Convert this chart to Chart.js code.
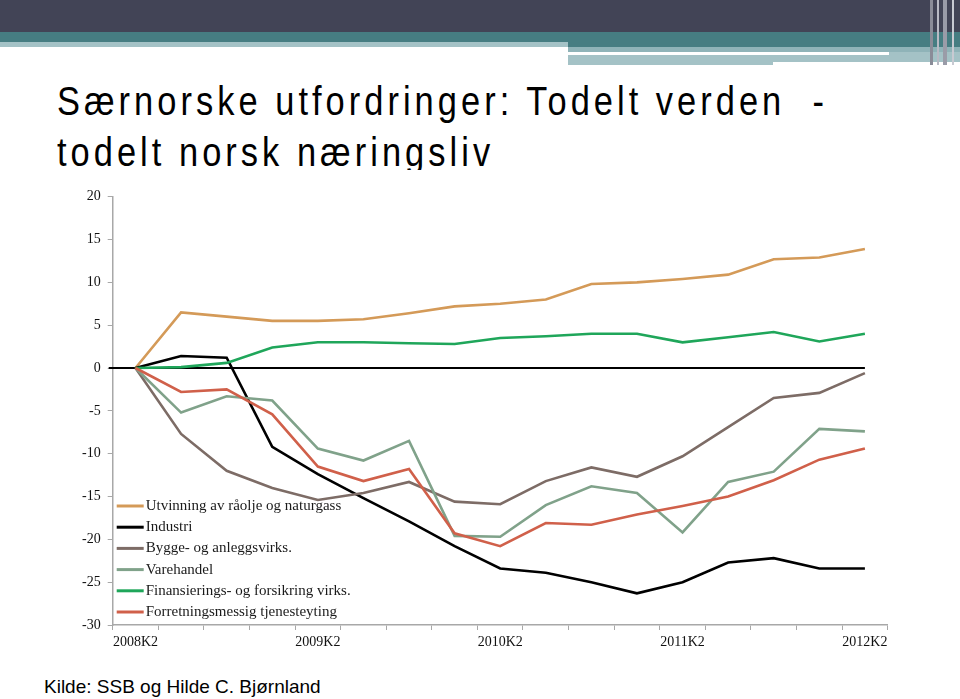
<!DOCTYPE html>
<html>
<head>
<meta charset="utf-8">
<script src="https://cdn.jsdelivr.net/npm/chart.js@4/dist/chart.umd.min.js"></script>
<style>
  body { margin: 0; width: 960px; height: 699px; overflow: hidden; background: #fff; position: relative; font-family: "Liberation Sans", Arial, sans-serif; }
  .blk { position: absolute; }
  #tittel { position: absolute; left: 57px; top: 76px; width: 880px; height: 94px; overflow: hidden; }
  #tittel div { font-size: 40px; line-height: 51px; color: #000; letter-spacing: 4.7px; transform: scaleX(0.86); transform-origin: left top; white-space: nowrap; }
  #kilde { position: absolute; left: 44px; top: 676px; font-size: 19px; color: #000; white-space: nowrap; }
  #boks { position: absolute; left: 0; top: 180px; width: 960px; height: 480px; }
</style>
</head>
<body>
<!-- topplinje -->
<div class="blk" style="left:0;top:0;width:960px;height:32px;background:#424456"></div>
<div class="blk" style="left:0;top:32px;width:960px;height:10px;background:#467D82"></div>
<div class="blk" style="left:0;top:42px;width:568px;height:5px;background:#A4C2C6"></div>
<div class="blk" style="left:568px;top:42px;width:392px;height:5px;background:#467D82"></div>
<div class="blk" style="left:568px;top:47px;width:392px;height:5px;background:#8FB3B8"></div>
<div class="blk" style="left:568px;top:52px;width:321px;height:3px;background:#fff"></div>
<div class="blk" style="left:889px;top:52px;width:71px;height:3px;background:#A4C2C6"></div>
<div class="blk" style="left:568px;top:55px;width:205px;height:10px;background:#A4C2C6"></div>
<div class="blk" style="left:773px;top:55px;width:187px;height:7px;background:#A4C2C6"></div>
<div class="blk" style="left:930px;top:0;width:3px;height:65px;background:#8A8C98"></div>
<div class="blk" style="left:937px;top:0;width:2px;height:65px;background:#B8BAC4"></div>
<div class="blk" style="left:943px;top:0;width:4px;height:65px;background:#9A9CA8"></div>
<div class="blk" style="left:952px;top:0;width:2px;height:65px;background:#C8CAD2"></div>

<div id="tittel">
  <div>Særnorske utfordringer: Todelt verden &nbsp;-</div>
  <div>todelt norsk næringsliv</div>
</div>

<div id="boks"><canvas id="graf" width="960" height="480"></canvas></div>
<div id="kilde">Kilde: SSB og Hilde C. Bjørnland</div>

<script>
// kvartaler 2008K2 - 2012K2
var kvartaler = ["2008K2","2008K3","2008K4","2009K1","2009K2","2009K3","2009K4","2010K1","2010K2",
                 "2010K3","2010K4","2011K1","2011K2","2011K3","2011K4","2012K1","2012K2"];

var utvinning   = [0, 6.5, 6.0, 5.5, 5.5, 5.7, 6.4, 7.2, 7.5, 8.0, 9.8, 10.0, 10.4, 10.9, 12.7, 12.9, 13.9];
var industri    = [0, 1.4, 1.2, -9.2, -12.4, -15.2, -17.9, -20.8, -23.4, -23.9, -25.0, -26.3, -25.0, -22.7, -22.2, -23.4, -23.4];
var bygge       = [0, -7.7, -12.0, -14.0, -15.4, -14.6, -13.3, -15.6, -15.9, -13.2, -11.6, -12.7, -10.3, -6.9, -3.5, -2.9, -0.6];
var varehandel  = [0, -5.2, -3.3, -3.8, -9.4, -10.8, -8.5, -19.6, -19.7, -16.0, -13.8, -14.6, -19.2, -13.3, -12.1, -7.1, -7.4];
var finans      = [0, 0.1, 0.6, 2.4, 3.0, 3.0, 2.9, 2.8, 3.5, 3.7, 4.0, 4.0, 3.0, 3.6, 4.2, 3.1, 4.0];
var forretning  = [0, -2.8, -2.5, -5.4, -11.5, -13.2, -11.8, -19.3, -20.8, -18.1, -18.3, -17.1, -16.1, -15.0, -13.1, -10.7, -9.4];

var navn = ["Utvinning av råolje og naturgass", "Industri", "Bygge- og anleggsvirks.", "Varehandel",
            "Finansierings- og forsikring virks.", "Forretningsmessig tjenesteyting"];
var farger = ["#D49A58", "#000000", "#7D6C66", "#80A28A", "#1FA65A", "#D0604A"];
var serier = [utvinning, industri, bygge, varehandel, finans, forretning];

var datasett = [];
for (var i = 0; i < serier.length; i++) {
  datasett.push({
    label: navn[i],
    data: serier[i],
    borderColor: farger[i],
    backgroundColor: farger[i],
    borderWidth: 2.6,
    pointRadius: 0,
    tension: 0,
    order: serier.length - i
  });
}

// svart linje ved null, fra aksen til siste punkt
var nullLinje = {
  id: 'nullLinje',
  beforeDatasetsDraw: function(chart) {
    var ctx = chart.ctx, x = chart.scales.x, y = chart.scales.y;
    var py = y.getPixelForValue(0);
    ctx.save();
    ctx.strokeStyle = '#000';
    ctx.lineWidth = 2;
    ctx.beginPath();
    ctx.moveTo(chart.chartArea.left - 4, py);
    ctx.lineTo(x.getPixelForValue(kvartaler.length - 1), py);
    ctx.stroke();
    ctx.restore();
  }
};

// tegnforklaring nede til venstre inne i plottet
var forklaring = {
  id: 'forklaring',
  afterDraw: function(chart) {
    var ctx = chart.ctx;
    var x0 = chart.chartArea.left + 4;
    var y0 = 506 - 180;
    ctx.save();
    ctx.font = '15px "Liberation Serif", "Times New Roman", serif';
    ctx.textBaseline = 'middle';
    for (var i = 0; i < navn.length; i++) {
      var yy = y0 + i * 21.2;
      ctx.strokeStyle = farger[i];
      ctx.lineWidth = 3;
      ctx.beginPath();
      ctx.moveTo(x0, yy);
      ctx.lineTo(x0 + 27, yy);
      ctx.stroke();
      ctx.fillStyle = '#1a1a1a';
      ctx.fillText(navn[i], x0 + 29, yy);
    }
    ctx.restore();
  }
};

new Chart(document.getElementById('graf').getContext('2d'), {
  type: 'line',
  data: { labels: kvartaler, datasets: datasett },
  options: {
    responsive: false,
    animation: false,
    layout: { padding: { left: 0, right: 72.3, top: 16.7, bottom: 0 } },
    plugins: { legend: { display: false }, tooltip: { enabled: false } },
    scales: {
      x: {
        offset: true,
        afterFit: function(s) { s.height = 35; },
        grid: { drawOnChartArea: false, offset: true, tickLength: 5, color: '#A8A8A8' },
        border: { color: '#A8A8A8', width: 1.5 },
        ticks: {
          autoSkip: false, maxRotation: 0, padding: 4, color: '#111',
          font: { family: '"Liberation Serif", "Times New Roman", serif', size: 14 },
          callback: function(v, idx) { return idx % 4 == 0 ? kvartaler[idx] : ''; }
        }
      },
      y: {
        min: -30, max: 20,
        afterFit: function(s) { s.width = 112.7; },
        grid: { drawOnChartArea: false, tickLength: 5, color: '#A8A8A8' },
        border: { color: '#A8A8A8', width: 1.5 },
        ticks: {
          stepSize: 5, padding: 7, color: '#111',
          font: { family: '"Liberation Serif", "Times New Roman", serif', size: 14 }
        }
      }
    }
  },
  plugins: [nullLinje, forklaring]
});
</script>
</body>
</html>
